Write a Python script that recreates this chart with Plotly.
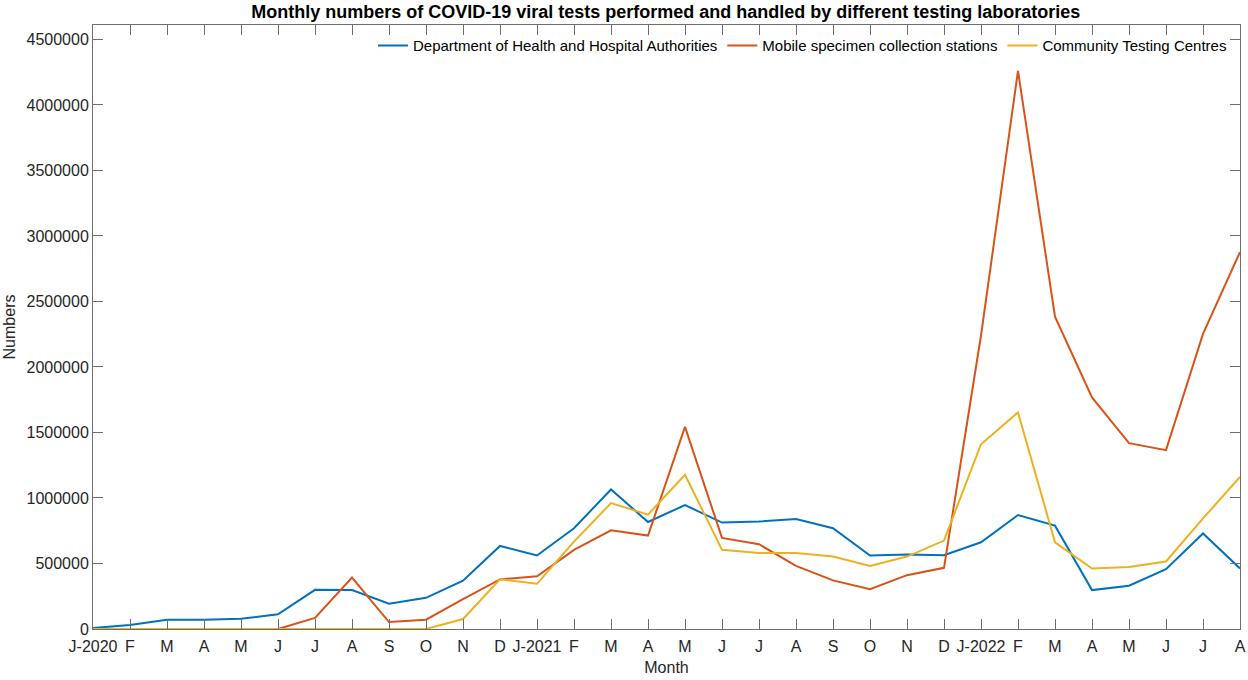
import plotly.graph_objects as go

# month labels, Jan 2020 .. Aug 2022
month_labels = ['J-2020', 'F', 'M', 'A', 'M', 'J', 'J', 'A', 'S', 'O', 'N', 'D',
                'J-2021', 'F', 'M', 'A', 'M', 'J', 'J', 'A', 'S', 'O', 'N', 'D',
                'J-2022', 'F', 'M', 'A', 'M', 'J', 'J', 'A']

dept_health = [8000, 30000, 70000, 70000, 78000, 112000, 299000, 297000, 193000, 238000, 368000, 634000,
               561000, 769000, 1065000, 817000, 946000, 812000, 820000, 840000, 769000, 561000, 568000, 563000,
               662000, 870000, 789000, 297000, 330000, 457000, 729000, 462000]

mobile_stations = [0, 0, 0, 0, 0, 0, 84000, 393000, 53000, 71000, 228000, 378000,
                   403000, 604000, 753000, 713000, 1543000, 695000, 647000, 482000, 371000, 304000, 411000, 467000,
                   2240000, 4260000, 2384000, 1767000, 1418000, 1365000, 2252000, 2877000]

community_centres = [0, 0, 0, 0, 0, 0, 0, 0, 0, 0, 76000, 380000,
                     345000, 667000, 961000, 873000, 1177000, 604000, 581000, 581000, 553000, 482000, 553000, 675000,
                     1410000, 1653000, 662000, 462000, 474000, 515000, 844000, 1160000]

series_names = ['Department of Health and Hospital Authorities',
                'Mobile specimen collection stations',
                'Community Testing Centres']
colors = ['#0072BD', '#D95319', '#EDB120']

x = list(range(len(month_labels)))

fig = go.Figure()
for name, vals, col in zip(series_names, [dept_health, mobile_stations, community_centres], colors):
    fig.add_trace(go.Scatter(x=x, y=vals, name=name, mode='lines',
                             line=dict(color=col, width=2)))

axis_style = dict(showline=True, linecolor='#6e6e6e', linewidth=1, mirror='allticks',
                  ticks='inside', ticklen=10, tickcolor='#6e6e6e', showgrid=False, zeroline=False,
                  automargin=False, tickfont=dict(size=16, color='#262626'))

fig.update_layout(
    width=1248, height=680,
    font=dict(family='Liberation Sans, Arial, sans-serif', color='#262626'),
    plot_bgcolor='white', paper_bgcolor='white',
    margin=dict(l=93, r=8, t=25, b=51),
    title=dict(text='<b>Monthly numbers of COVID-19 viral tests performed and handled by different testing laboratories</b>',
               x=0.5335, xanchor='center', y=0.983, yanchor='middle', font=dict(size=18, color='black')),
    xaxis=dict(axis_style, tickvals=x, ticktext=month_labels, range=[0, len(x) - 1],
               ticklabelstandoff=3,
               title=dict(text='Month', font=dict(size=16), standoff=7)),
    yaxis=dict(axis_style, range=[0, 4610000], dtick=500000, tickformat='d',
               title=dict(text='Numbers', font=dict(size=16), standoff=6)),
    legend=dict(orientation='h', x=0.993, xanchor='right', y=0.993, yanchor='top',
                bgcolor='rgba(255,255,255,0)', font=dict(size=15, color='black'),
                itemwidth=30, tracegroupgap=0),
    showlegend=True,
)

fig.write_html('out.html', config={'displayModeBar': False},
               post_script="document.body.style.margin='0';")
